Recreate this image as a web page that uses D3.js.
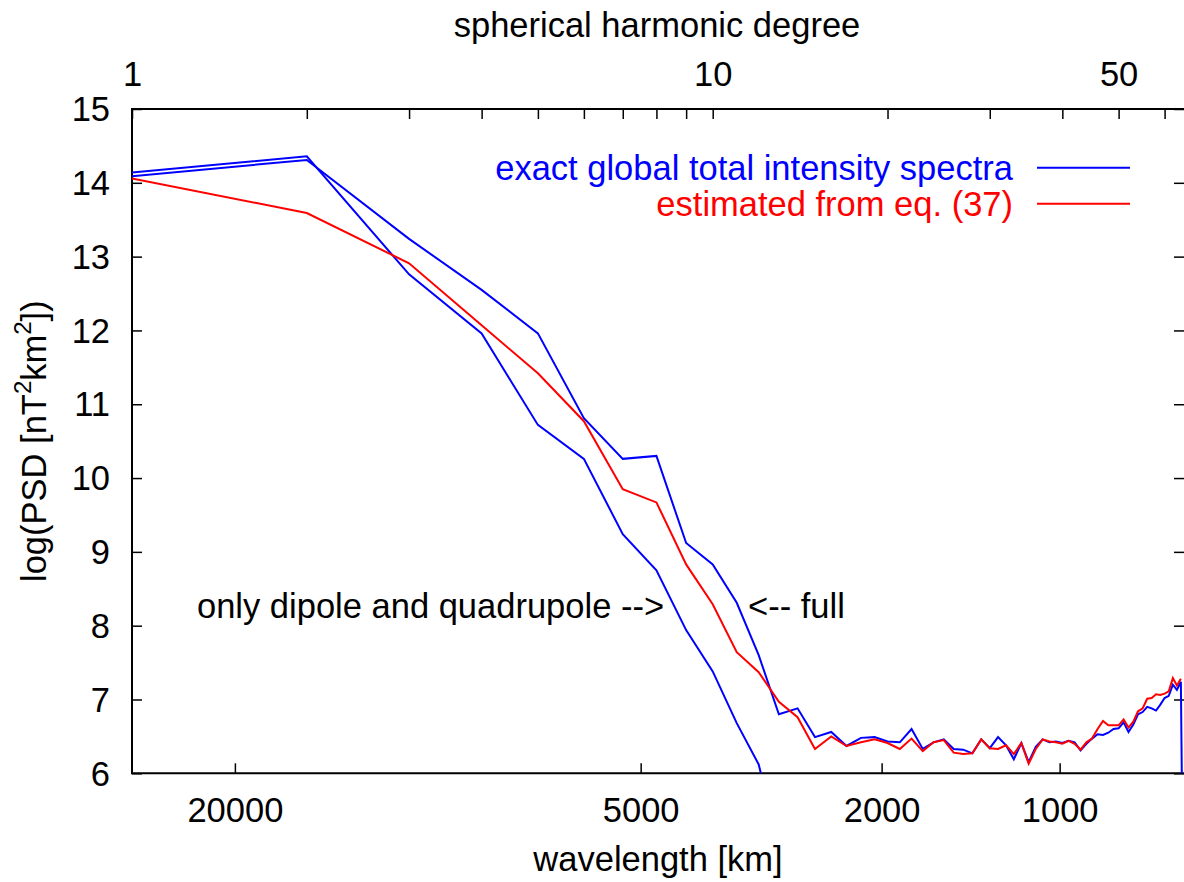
<!DOCTYPE html>
<html>
<head>
<meta charset="utf-8">
<script src="https://cdn.jsdelivr.net/npm/d3@7"></script>
<style>
  html, body { margin: 0; padding: 0; background: #fff; overflow: hidden; }
  svg { display: block; font-family: "Liberation Sans", Arial, Helvetica, sans-serif; }
</style>
</head>
<body>
<svg id="chart" width="1184" height="882"></svg>
<script>
// Spherical harmonic degrees n
const degrees = [1, 2, 3, 4, 5, 6, 7, 8, 9, 10, 11, 12, 13, 14, 15, 16, 17, 18, 19, 20,
  21, 22, 23, 24, 25, 26, 27, 28, 29, 30, 31, 32, 33, 34, 35, 36, 37, 38, 39, 40,
  41, 42, 43, 44, 45, 46, 47, 48, 49, 50, 51, 52, 53, 54, 55, 56, 57, 58, 59, 60,
  61, 62, 63, 64, 65];

// log10 PSD of the exact total-intensity spectrum, full field model
const fullSpectrum = [14.09, 14.31, 13.24, 12.55, 11.96, 10.81, 10.26, 10.30, 9.12, 8.83,
  8.31, 7.60, 6.80, 6.88, 6.49, 6.56, 6.37, 6.48, 6.49, 6.43,
  6.42, 6.60, 6.33, 6.42, 6.46, 6.33, 6.32, 6.27, 6.46, 6.34,
  6.49, 6.38, 6.19, 6.41, 6.15, 6.36, 6.46, 6.42, 6.43, 6.41,
  6.44, 6.42, 6.31, 6.40, 6.47, 6.53, 6.52, 6.55, 6.60, 6.61,
  6.69, 6.56, 6.66, 6.80, 6.83, 6.90, 6.88, 6.85, 6.93, 7.02,
  7.05, 7.20, 7.13, 7.24, 2.0];

// log10 PSD of the exact spectrum using only dipole and quadrupole terms
const dipoleQuadSpectrum = [14.14, 14.36, 12.76, 11.96, 10.72, 10.26, 9.24, 8.75, 7.94, 7.38,
  6.68, 6.12, 5.00];

// log10 PSD estimated from eq. (37)
const estimatedSpectrum = [14.06, 13.59, 12.91, 12.07, 11.42, 10.77, 9.85, 9.67, 8.83, 8.29,
  7.64, 7.37, 6.97, 6.76, 6.33, 6.50, 6.37, 6.42, 6.46, 6.41,
  6.33, 6.47, 6.30, 6.42, 6.45, 6.28, 6.26, 6.27, 6.46, 6.34,
  6.33, 6.38, 6.26, 6.41, 6.13, 6.33, 6.46, 6.43, 6.42, 6.40,
  6.44, 6.40, 6.32, 6.42, 6.47, 6.60, 6.71, 6.65, 6.65, 6.65,
  6.73, 6.62, 6.70, 6.84, 6.88, 7.01, 7.02, 7.07, 7.06, 7.08,
  7.11, 7.29, 7.19, 7.28];

// Axis ticks
const degreeTicks = [1, 2, 3, 4, 5, 6, 7, 8, 9, 10, 20, 30, 40, 50, 60];
const degreeLabels = [1, 10, 50];
const wavelengthTicks = [20000, 5000, 2000, 1000];
const psdTicks = [6, 7, 8, 9, 10, 11, 12, 13, 14, 15];
const degreeRange = [1, 64.8];
const psdRange = [6, 15];
const earthCircumferenceKm = 40075;

const seriesNames = ["exact global total intensity spectra", "estimated from eq. (37)"];
const seriesColors = ["#0000ff", "#ff0000"];

// ---- layout ----
const plot = { left: 132, top: 109, right: 1184, bottom: 773.3 };
const fontSize = 34.5;

const svg = d3.select("#chart");

const x = d3.scaleLog().domain(degreeRange).range([plot.left, plot.right]);
const y = d3.scaleLinear().domain(psdRange).range([plot.bottom, plot.top]);

// wavelength (km) of a degree: lambda = C / (n + 1/2)
const degreeOfWavelength = lam => earthCircumferenceKm / lam - 0.5;

function styleAxis(g) {
  g.select(".domain").remove();
  g.selectAll(".tick line").attr("stroke", "#000").attr("stroke-width", 1.5);
  g.selectAll(".tick text")
    .attr("fill", "#000")
    .style("font-size", fontSize + "px")
    .style("font-family", "'Liberation Sans', Arial, Helvetica, sans-serif");
}

// top axis: spherical harmonic degree
svg.append("g")
  .attr("transform", `translate(0,${plot.top})`)
  .call(d3.axisTop(x).tickValues(degreeTicks).tickSize(-10).tickPadding(23)
    .tickFormat(d => degreeLabels.includes(d) ? String(d) : ""))
  .call(styleAxis);

// bottom axis: wavelength
svg.append("g")
  .attr("transform", `translate(0,${plot.bottom})`)
  .call(d3.axisBottom(x)
    .tickValues(wavelengthTicks.map(degreeOfWavelength))
    .tickSize(-10).tickPadding(24)
    .tickFormat((d, i) => String(wavelengthTicks[i])))
  .call(styleAxis)
  .call(g => g.selectAll(".tick text").attr("dy", "0.71em"));

// left axis
svg.append("g")
  .attr("transform", `translate(${plot.left},0)`)
  .call(d3.axisLeft(y).tickValues(psdTicks).tickSize(-10).tickPadding(22).tickFormat(d3.format("d")))
  .call(styleAxis)
  .call(g => g.selectAll(".tick text").attr("dy", "0.34em"));

// right axis (ticks only)
svg.append("g")
  .attr("transform", `translate(${plot.right},0)`)
  .call(d3.axisRight(y).tickValues(psdTicks).tickSize(-10).tickFormat(""))
  .call(styleAxis);

// frame
svg.append("path")
  .attr("d", `M${plot.right},${plot.top}H${plot.left}V${plot.bottom}H${plot.right}`)
  .attr("fill", "none").attr("stroke", "#000").attr("stroke-width", 2);

// clip region for the spectra
svg.append("clipPath").attr("id", "plot-clip")
  .append("rect")
  .attr("x", plot.left).attr("y", plot.top)
  .attr("width", plot.right - plot.left).attr("height", plot.bottom - plot.top);

const line = d3.line()
  .x(d => x(d[0]))
  .y(d => y(d[1]));

const series = [
  { values: dipoleQuadSpectrum, color: seriesColors[0] },
  { values: fullSpectrum, color: seriesColors[0] },
  { values: estimatedSpectrum, color: seriesColors[1] }
];

const lines = svg.append("g").attr("clip-path", "url(#plot-clip)");
series.forEach(s => {
  lines.append("path")
    .datum(s.values.map((v, i) => [degrees[i], v]))
    .attr("d", line)
    .attr("fill", "none")
    .attr("stroke", s.color)
    .attr("stroke-width", 2)
    .attr("stroke-linejoin", "miter");
});

// legend
const legend = svg.append("g");
seriesNames.forEach((name, i) => {
  const ly = 167.7 + i * 36;
  legend.append("text")
    .attr("x", 1013).attr("y", ly + 12)
    .attr("text-anchor", "end")
    .attr("fill", seriesColors[i])
    .style("font-size", fontSize + "px")
    .text(name);
  legend.append("line")
    .attr("x1", 1037).attr("x2", 1130)
    .attr("y1", ly).attr("y2", ly)
    .attr("stroke", seriesColors[i]).attr("stroke-width", 2);
});

// annotations
svg.append("text")
  .attr("x", 197).attr("y", 618)
  .style("font-size", fontSize + "px")
  .text("only dipole and quadrupole -->");
svg.append("text")
  .attr("x", 748).attr("y", 618)
  .style("font-size", fontSize + "px")
  .text("<-- full");

// axis titles
svg.append("text")
  .attr("x", (plot.left + plot.right) / 2 - 1).attr("y", 37)
  .attr("text-anchor", "middle")
  .style("font-size", fontSize + "px")
  .text("spherical harmonic degree");

svg.append("text")
  .attr("x", (plot.left + plot.right) / 2).attr("y", 871)
  .attr("text-anchor", "middle")
  .style("font-size", fontSize + "px")
  .text("wavelength [km]");

const yTitle = svg.append("text")
  .attr("transform", `translate(46,${(plot.top + plot.bottom) / 2}) rotate(-90)`)
  .attr("text-anchor", "middle")
  .style("font-size", fontSize + "px");
yTitle.append("tspan").text("log(PSD [nT");
yTitle.append("tspan").attr("dy", -15).style("font-size", "24px").text("2");
yTitle.append("tspan").attr("dy", 15).text("km");
yTitle.append("tspan").attr("dy", -15).style("font-size", "24px").text("2");
yTitle.append("tspan").attr("dy", 15).text("])");
</script>
</body>
</html>
